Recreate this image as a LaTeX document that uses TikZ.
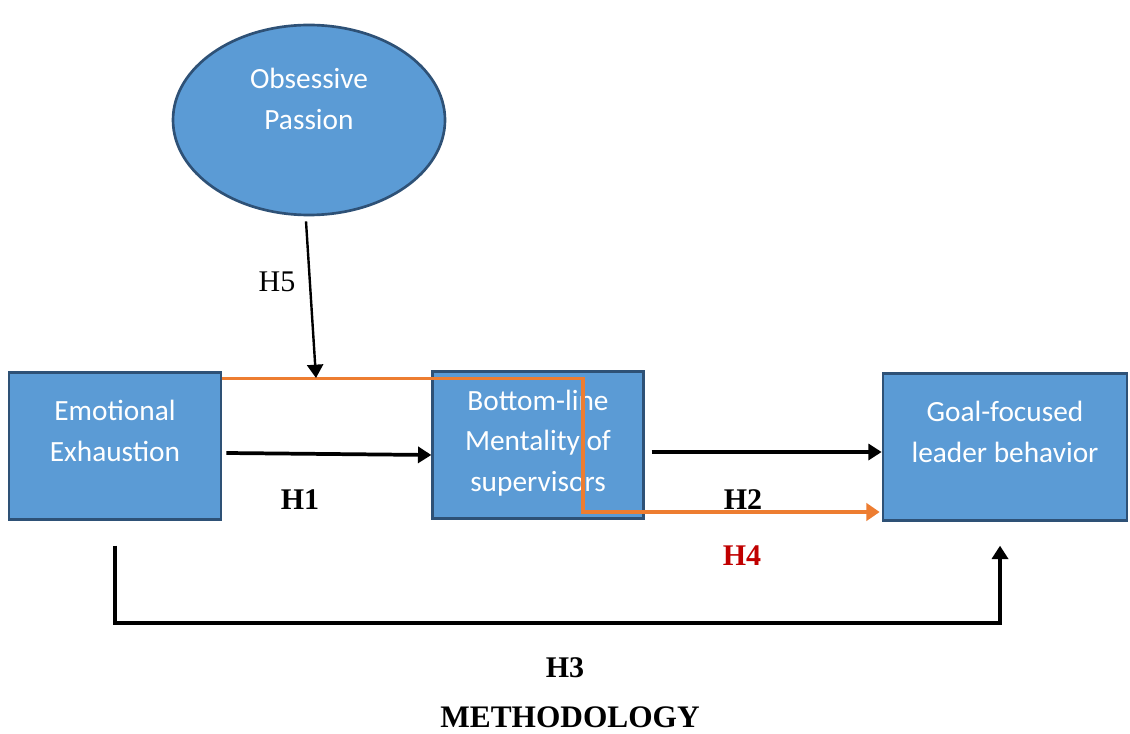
\documentclass[tikz,border=0pt]{standalone}
\usepackage{fontspec}
\setmainfont{Liberation Serif}
\newfontfamily\calfont{Carlito}
\usetikzlibrary{positioning,arrows.meta,shapes.geometric}
\definecolor{boxblue}{HTML}{5B9BD5}
\definecolor{boxedge}{HTML}{2E5176}
\definecolor{hyorange}{HTML}{ED7D31}
\definecolor{hyred}{HTML}{C00000}

\begin{document}
\begin{tikzpicture}[x=0.75pt, y=-0.75pt,
        b/.style={draw=boxedge, line width=2pt, fill=boxblue, minimum height=110pt},
        t/.style={font=\calfont\fontsize{22}{30.5}\selectfont, text=white, align=center},
        hl/.style={font=\fontsize{22.5}{27}\selectfont\bfseries},
        arr/.style={-{Triangle[length=10pt,width=12pt]}, line width=2.8pt},
        oarr/.style={-{Triangle[length=10pt,width=13pt]}, line width=2.5pt, draw=hyorange}]
      \useasboundingbox (0,0) rectangle (1130,734);
      % constructs
      \node[b, ellipse, minimum width=204pt, minimum height=142.5pt] (op) at (309,120) {};
      \node[t] (opt) at ([yshift=15.75pt]op.center) {Obsessive\\Passion};
      \node[b, minimum width=159pt] (ee) at (115,446) {};
      \node[t] (eet) at ([yshift=11.25pt]ee.center) {Emotional\\Exhaustion};
      \node[b, minimum width=158pt] (blm) at (538,445) {};
      \node[t] (blmt) at ([yshift=1.5pt]blm.center) {Bottom-line\\Mentality of\\supervisors};
      \node[b, minimum width=183pt] (gf) at (1005,447) {};
      \node[t] (gft) at ([yshift=11.25pt]gf.center) {Goal-focused\\leader behavior};
      % paths
      \coordinate (h4turn) at (583,512);
      \draw[oarr] ([yshift=-5.25pt]ee.north east) -| (h4turn) -- ([xshift=-1.5pt]gf.west |- h4turn);
      \coordinate (h5tip) at (316,378);
      \draw[arr, line width=1.8pt] ([shift={(-3,5)}]op.south) -- (h5tip);
      \draw[arr] ([shift={(4,7)}]ee.east) -- ([yshift=-7.5pt]blm.west);
      \draw[arr] ([shift={(7,7)}]blm.east) -- ([yshift=-3.75pt]gf.west);
      \coordinate (h3a) at ([yshift=-18.75pt]ee.south);
      \coordinate (h3b) at ([shift={(-5,24)}]gf.south);
      \draw[arr] (h3a) -- ++(0,77) -| (h3b);
      % labels
      \node[font=\fontsize{22.5}{27}\selectfont] (h5) at (277,282) {H5};
      \node[hl] (h1) at (300,500) {H1};
      \node[hl] (h2) at (743,500) {H2};
      \node[hl, text=hyred] (h4) at (742,556) {H4};
      \node[hl] (h3) at (565,668) {H3};
      \node[hl, font=\fontsize{23.5}{27}\selectfont\bfseries] (meth) at (570,717) {METHODOLOGY};
\end{tikzpicture}
\end{document}
